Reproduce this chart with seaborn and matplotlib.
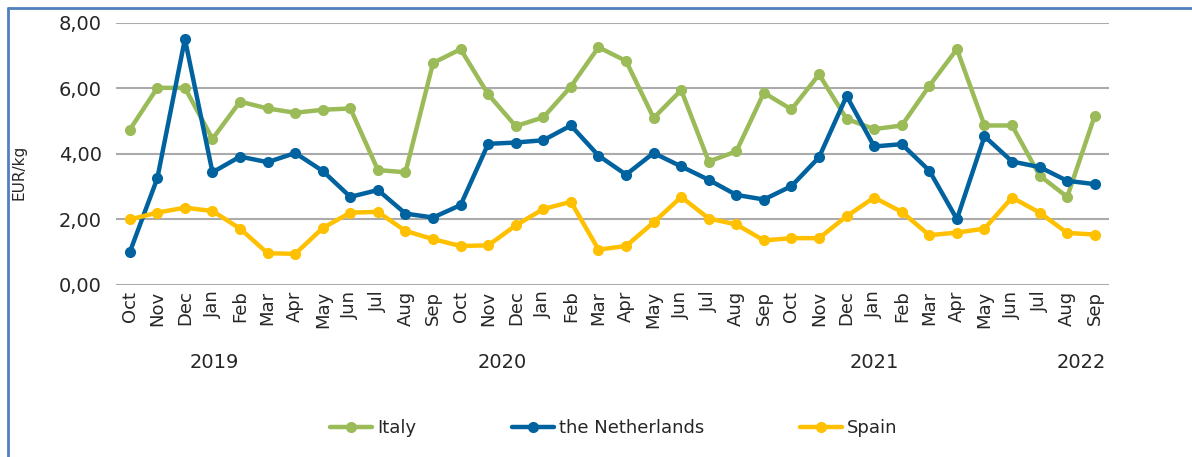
import numpy as np
import pandas as pd
import matplotlib
matplotlib.use("Agg")
import matplotlib.pyplot as plt
import matplotlib.transforms as mtransforms
from matplotlib.lines import Line2D
import seaborn as sns

# Monthly prices, Oct 2019 - Sep 2022
months = ["Oct", "Nov", "Dec", "Jan", "Feb", "Mar", "Apr", "May", "Jun", "Jul", "Aug", "Sep"] * 3
years = ["2019", "2020", "2021", "2022"]
year_pos = [3.05, 13.5, 27.0, 34.5]

italy = [4.74, 6.02, 6.02, 4.46, 5.60, 5.39, 5.26, 5.35, 5.39, 3.51, 3.44, 6.78,
         7.20, 5.82, 4.85, 5.12, 6.06, 7.26, 6.84, 5.10, 5.95, 3.77, 4.08, 5.87,
         5.36, 6.43, 5.07, 4.76, 4.87, 6.08, 7.20, 4.87, 4.87, 3.34, 2.69, 5.17]
netherlands = [1.00, 3.26, 7.51, 3.44, 3.92, 3.75, 4.03, 3.48, 2.69, 2.90, 2.18, 2.06,
               2.44, 4.31, 4.35, 4.42, 4.87, 3.95, 3.37, 4.03, 3.62, 3.21, 2.75, 2.61,
               3.02, 3.90, 5.77, 4.23, 4.30, 3.49, 2.01, 4.54, 3.77, 3.60, 3.18, 3.08]
spain = [2.00, 2.21, 2.36, 2.26, 1.72, 0.97, 0.95, 1.74, 2.21, 2.23, 1.65, 1.40,
         1.19, 1.21, 1.82, 2.32, 2.54, 1.08, 1.19, 1.91, 2.69, 2.03, 1.85, 1.36,
         1.43, 1.43, 2.10, 2.67, 2.23, 1.52, 1.60, 1.72, 2.67, 2.21, 1.59, 1.54]

series = ["Italy", "the Netherlands", "Spain"]
colors = {"Italy": "#9BBB59", "the Netherlands": "#00629E", "Spain": "#FFC000"}

n = len(months)
df = pd.DataFrame({
    "idx": list(range(n)) * 3,
    "price": italy + netherlands + spain,
    "country": [s for s in series for _ in range(n)],
})

sns.set_style("white")
plt.rcParams['font.family'] = ['DejaVu Sans']

fig = plt.figure(figsize=(11.92, 4.57), dpi=100)
ax = fig.add_axes([0.0973, 0.3764, 0.8327, 0.5733])

sns.lineplot(data=df, x="idx", y="price", hue="country", palette=colors,
             marker="o", markersize=8, markeredgewidth=0, linewidth=3.2,
             legend=False, ax=ax, zorder=3)

ax.set_xlim(-0.5, n - 0.5)
ax.set_ylim(0, 8)
ax.set_yticks(np.arange(0, 8.01, 2))
ax.set_yticklabels([f"{v:.2f}".replace(".", ",") for v in np.arange(0, 8.01, 2)], fontsize=14)
ax.set_xticks(range(n))
ax.set_xticklabels(months, rotation=90, fontsize=13)
ax.tick_params(axis="both", length=0, pad=4)
ax.tick_params(axis="y", pad=10)
ax.yaxis.grid(True, color="#ABABAB", linewidth=1.5, zorder=0)
ax.xaxis.grid(False)
for s in ax.spines.values():
    s.set_visible(False)
ax.set_xlabel("")
ax.set_ylabel("EUR/kg", fontsize=11)
ax.yaxis.set_label_coords(26 / 1192, 1 - 172 / 457, transform=fig.transFigure)

# year labels under the month ticks
trans = mtransforms.blended_transform_factory(ax.transData, fig.transFigure)
for yr, xp in zip(years, year_pos):
    ax.text(xp, 1 - 362 / 457, yr, transform=trans, ha="center", va="center", fontsize=14)

# legend
handles = [Line2D([0], [0], color=colors[s], linewidth=3.2, marker="o",
                  markersize=8, markeredgewidth=0) for s in series]
fig.legend(handles, series, loc="center", bbox_to_anchor=(0.515, 1 - 428 / 457),
           ncol=3, frameon=False, fontsize=13, handlelength=2.3,
           handletextpad=0.3, columnspacing=5.3)

# frame lines on the left and top
fig.add_artist(Line2D([8 / 1192, 8 / 1192], [0, 1 - 8 / 457], color="#4F81BD",
                      linewidth=2, transform=fig.transFigure))
fig.add_artist(Line2D([8 / 1192, 1], [1 - 8 / 457, 1 - 8 / 457], color="#4F81BD",
                      linewidth=2, transform=fig.transFigure))

fig.savefig("out.png", dpi=100)
